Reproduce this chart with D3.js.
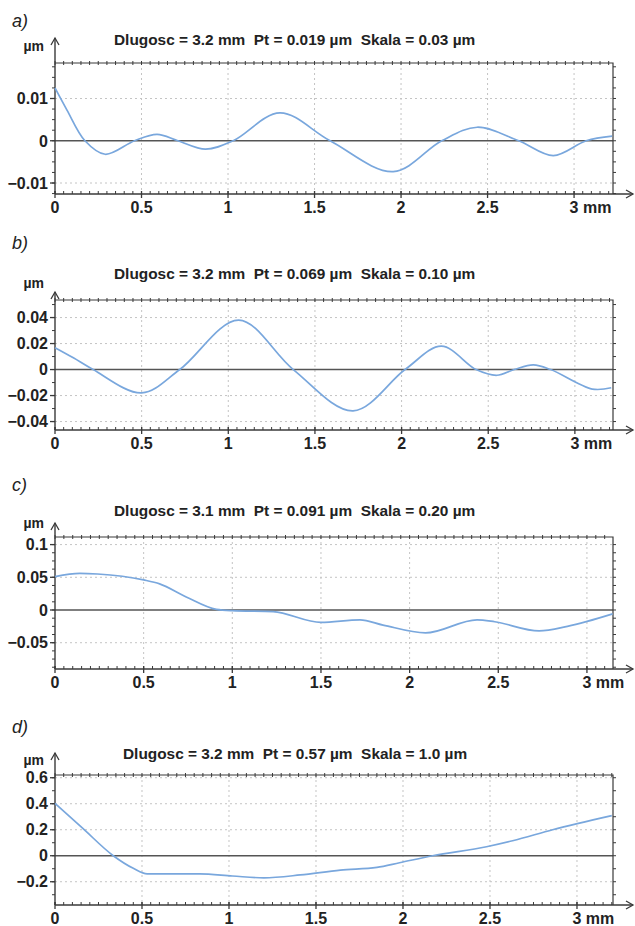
<!DOCTYPE html>
<html>
<head>
<meta charset="utf-8">
<script src="https://cdn.jsdelivr.net/npm/d3@7"></script>
<style>
  body { margin: 0; background: #fff; }
  text { font-family: "Liberation Sans", Arial, sans-serif; white-space: pre; }
</style>
</head>
<body>
<svg id="chart"></svg>
<script>
const W = 635, H = 926;

// panel labels and titles
const panelLabels = ['a)', 'b)', 'c)', 'd)'];
const titles = [
  'Dlugosc = 3.2 mm  Pt = 0.019 µm  Skala = 0.03 µm',
  'Dlugosc = 3.2 mm  Pt = 0.069 µm  Skala = 0.10 µm',
  'Dlugosc = 3.1 mm  Pt = 0.091 µm  Skala = 0.20 µm',
  'Dlugosc = 3.2 mm  Pt = 0.57 µm  Skala = 1.0 µm'
];

// x ticks (mm)
const xTicks = [0, 0.5, 1, 1.5, 2, 2.5, 3];

// y ticks per panel (µm)
const aTicks = [-0.01, 0, 0.01];
const bTicks = [-0.04, -0.02, 0, 0.02, 0.04];
const cTicks = [-0.05, 0, 0.05, 0.1];
const dTicks = [-0.2, 0, 0.2, 0.4, 0.6];

// profile values
const aX = [0, 0.07, 0.173, 0.29, 0.46, 0.59, 0.71, 0.87, 1.03, 1.30, 1.59, 1.955, 2.235, 2.44, 2.68, 2.88, 3.07, 3.22];
const aY = [0.0125, 0.0072, 0, -0.0032, 0, 0.0015, 0, -0.002, 0, 0.0066, 0, -0.0073, 0, 0.0032, 0, -0.0035, 0, 0.0011];

const bX = [0, 0.106, 0.22, 0.50, 0.72, 1.06, 1.375, 1.72, 2.02, 2.23, 2.43, 2.55, 2.65, 2.76, 2.86, 3.10, 3.21];
const bY = [0.0168, 0.009, 0, -0.018, 0, 0.038, 0, -0.0318, 0, 0.018, 0, -0.0044, 0, 0.0036, 0, -0.015, -0.014];

const cX = [0, 0.14, 0.24, 0.50, 0.59, 0.74, 0.91, 1.0, 1.23, 1.50, 1.72, 1.85, 2.09, 2.38, 2.48, 2.73, 2.89, 3.145];
const cY = [0.051, 0.056, 0.055, 0.046, 0.040, 0.020, 0.001, -0.001, -0.0025, -0.019, -0.015, -0.023, -0.035, -0.015, -0.018, -0.032, -0.025, -0.006];

const dX = [0, 0.16, 0.335, 0.45, 0.53, 0.83, 1.02, 1.20, 1.41, 1.64, 1.85, 1.98, 2.17, 2.48, 2.63, 2.86, 3.20];
const dY = [0.403, 0.21, 0, -0.097, -0.14, -0.14, -0.156, -0.17, -0.148, -0.11, -0.09, -0.054, 0, 0.069, 0.115, 0.20, 0.308];

// layout per panel
const panels = [
  { xs: aX, ys: aY, ticks: aTicks, yDom: [-0.0126, 0.0184], minor: 0.0025, xMax: 3.225, top: 63, bottom: 194, labelY: 27, titleY: 45, unitY: 51, arrowTop: 38, titleX: 114, fmt: d => d === 0 ? '0' : d3.format('.2f')(d) },
  { xs: bX, ys: bY, ticks: bTicks, yDom: [-0.0465, 0.0535], minor: 0.01, xMax: 3.22, top: 300, bottom: 430, labelY: 249, titleY: 279, unitY: 288, arrowTop: 292, titleX: 114, fmt: d => d === 0 ? '0' : d3.format('.2f')(d) },
  { xs: cX, ys: cY, ticks: cTicks, yDom: [-0.0902, 0.1116], minor: 0.0125, xMax: 3.147, top: 537, bottom: 669, labelY: 491, titleY: 516, unitY: 528, arrowTop: 523, titleX: 114, fmt: d => d === 0 ? '0' : (d === 0.1 ? '0.1' : d3.format('.2f')(d)) },
  { xs: dX, ys: dY, ticks: dTicks, yDom: [-0.379, 0.621], minor: 0.1, xMax: 3.207, top: 775, bottom: 905, labelY: 733, titleY: 759, unitY: 765, arrowTop: 753, titleX: 123, fmt: d => d === 0 ? '0' : d3.format('.1f')(d) }
];

const left = 55, right = 613;
const axisColor = '#3a3a3a';

const svg = d3.select('#chart')
  .attr('width', W)
  .attr('height', H);

svg.append('rect').attr('width', W).attr('height', H).attr('fill', '#fff');

panels.forEach((p, i) => {
  const g = svg.append('g');

  const x = d3.scaleLinear().domain([0, p.xMax]).range([left, right]);
  const y = d3.scaleLinear().domain(p.yDom).range([p.bottom, p.top]);

  // panel letter and title
  g.append('text')
    .attr('x', 12).attr('y', p.labelY)
    .attr('font-size', 18).attr('font-style', 'italic')
    .attr('fill', '#222')
    .text(panelLabels[i]);

  g.append('text')
    .attr('x', p.titleX).attr('y', p.titleY)
    .attr('font-size', 15.4).attr('font-weight', 'bold')
    .attr('fill', '#222')
    .text(titles[i]);

  g.append('text')
    .attr('x', 44).attr('y', p.unitY)
    .attr('text-anchor', 'end')
    .attr('font-size', 14).attr('font-weight', 'bold')
    .attr('fill', '#222')
    .text('µm');

  // dotted grid
  g.selectAll('.vgrid')
    .data(xTicks.filter(d => d > 0))
    .join('line')
    .attr('x1', d => x(d)).attr('x2', d => x(d))
    .attr('y1', p.top).attr('y2', p.bottom)
    .attr('stroke', '#c4c4c4').attr('stroke-width', 1)
    .attr('stroke-dasharray', '2,3');

  g.selectAll('.hgrid')
    .data(p.ticks.filter(d => d !== 0))
    .join('line')
    .attr('x1', left).attr('x2', right)
    .attr('y1', d => y(d)).attr('y2', d => y(d))
    .attr('stroke', '#c4c4c4').attr('stroke-width', 1)
    .attr('stroke-dasharray', '2,3');

  // zero line
  g.append('line')
    .attr('x1', left).attr('x2', right)
    .attr('y1', y(0)).attr('y2', y(0))
    .attr('stroke', '#555').attr('stroke-width', 1.6);

  // frame: top and right
  g.append('path')
    .attr('d', `M${left},${p.top}H${right}V${p.bottom}`)
    .attr('fill', 'none').attr('stroke', axisColor).attr('stroke-width', 1.2);

  // minor x ticks (every 0.05 mm) on top and bottom
  const xMinor = d3.range(0, p.xMax, 0.05);
  g.selectAll('.tminor')
    .data(xMinor)
    .join('line')
    .attr('x1', d => x(d)).attr('x2', d => x(d))
    .attr('y1', p.top - 2).attr('y2', p.top + 2)
    .attr('stroke', axisColor).attr('stroke-width', 1);

  g.selectAll('.bminor')
    .data(xMinor)
    .join('line')
    .attr('x1', d => x(d)).attr('x2', d => x(d))
    .attr('y1', p.bottom - 3).attr('y2', p.bottom)
    .attr('stroke', axisColor).attr('stroke-width', 1);

  // minor y ticks left and right
  const yMinor = d3.range(Math.ceil(p.yDom[0] / p.minor) * p.minor, p.yDom[1], p.minor);
  g.selectAll('.lminor')
    .data(yMinor)
    .join('line')
    .attr('x1', left - 3).attr('x2', left)
    .attr('y1', d => y(d)).attr('y2', d => y(d))
    .attr('stroke', axisColor).attr('stroke-width', 1);

  g.selectAll('.rminor')
    .data(yMinor)
    .join('line')
    .attr('x1', right).attr('x2', right + 3)
    .attr('y1', d => y(d)).attr('y2', d => y(d))
    .attr('stroke', axisColor).attr('stroke-width', 1);

  // Y axis with arrow
  g.append('line')
    .attr('x1', left).attr('x2', left)
    .attr('y1', p.bottom).attr('y2', p.arrowTop)
    .attr('stroke', axisColor).attr('stroke-width', 1.4);
  g.append('path')
    .attr('d', `M${left - 4},${p.arrowTop + 7}L${left},${p.arrowTop}L${left + 4},${p.arrowTop + 7}`)
    .attr('fill', 'none').attr('stroke', axisColor).attr('stroke-width', 1.3);

  // X axis with arrow
  g.append('line')
    .attr('x1', left).attr('x2', 633)
    .attr('y1', p.bottom).attr('y2', p.bottom)
    .attr('stroke', axisColor).attr('stroke-width', 1.4);
  g.append('path')
    .attr('d', `M626,${p.bottom - 4}L633,${p.bottom}L626,${p.bottom + 4}`)
    .attr('fill', 'none').attr('stroke', axisColor).attr('stroke-width', 1.3);

  // major y ticks and labels
  g.selectAll('.ymaj')
    .data(p.ticks)
    .join('line')
    .attr('x1', left - 5).attr('x2', left)
    .attr('y1', d => y(d)).attr('y2', d => y(d))
    .attr('stroke', axisColor).attr('stroke-width', 1.3);

  g.selectAll('.ylab')
    .data(p.ticks)
    .join('text')
    .attr('x', left - 7).attr('y', d => y(d))
    .attr('dy', '0.36em')
    .attr('text-anchor', 'end')
    .attr('font-size', 16).attr('font-weight', 'bold')
    .attr('fill', '#222')
    .text(p.fmt);

  // major x ticks and labels
  g.selectAll('.xmaj')
    .data(xTicks)
    .join('line')
    .attr('x1', d => x(d)).attr('x2', d => x(d))
    .attr('y1', p.bottom - 3).attr('y2', p.bottom + 4)
    .attr('stroke', axisColor).attr('stroke-width', 1.3);

  g.selectAll('.xlab')
    .data(xTicks)
    .join('text')
    .attr('x', d => x(d)).attr('y', p.bottom + 19)
    .attr('text-anchor', 'middle')
    .attr('font-size', 16).attr('font-weight', 'bold')
    .attr('fill', '#222')
    .text(d => d3.format('~g')(d))
    .each(function(d) {
      if (d === 3) {
        const w = this.getComputedTextLength();
        d3.select(this)
          .attr('text-anchor', 'start')
          .attr('x', x(d) - w / 2)
          .text('3 mm');
      }
    });

  // profile curve
  const pts = p.xs.map((v, k) => [v, p.ys[k]]);
  g.append('path')
    .datum(pts)
    .attr('fill', 'none')
    .attr('stroke', '#79a7dd')
    .attr('stroke-width', 1.7)
    .attr('d', d3.line()
      .x(d => x(d[0]))
      .y(d => y(d[1]))
      .curve(i < 2 ? d3.curveCatmullRom.alpha(0.5) : d3.curveMonotoneX)
    );
});
</script>
</body>
</html>
